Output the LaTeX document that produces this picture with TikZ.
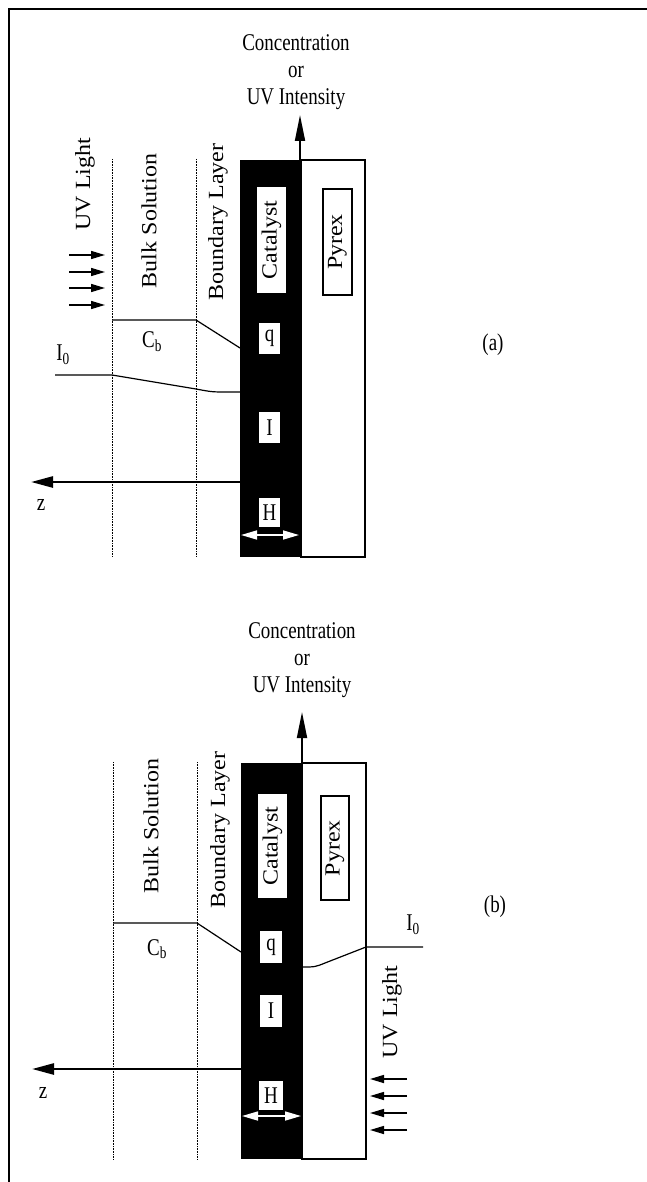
\documentclass[tikz,border=0pt]{standalone}
\usepackage{graphicx}
\usepackage{fontspec}
\setmainfont{Liberation Serif}
\usetikzlibrary{arrows.meta}
\newcommand{\hsq}[1]{\scalebox{0.79}[1]{#1}}
\newcommand{\vsq}[1]{\rotatebox{90}{\scalebox{1}[0.9]{#1}}}
\begin{document}
\begin{tikzpicture}[
    x=1pt, y=-1pt,
    every node/.style={font=\fontsize{24}{27}\selectfont, inner sep=0pt},
    tag/.style={fill=white, minimum width=21pt, minimum height=31pt},
    slab/.style={fill=white, minimum width=29pt, minimum height=106pt},
    layer/.style={densely dotted, line width=0.6pt},
    profile/.style={line width=1.2pt},
    zaxis/.style={line width=2.6pt, -{Triangle[length=22pt,width=11pt]}},
    upaxis/.style={line width=1.8pt, -{Triangle[length=26pt,width=10pt]}},
    uvray/.style={line width=1.5pt, -{Triangle[length=14pt,width=8pt]}},
    span/.style={white, line width=1.6pt,
        {Triangle[length=16pt,width=9pt]}-{Triangle[length=16pt,width=9pt]}}
]
  \useasboundingbox (0,0) rectangle (647,1182);
  % frame
  \draw[line width=1.5pt] (9,1182) -- (9,9) -- (647,9);

  % ---- panel (a): light from the solution side
  \fill (240,160) rectangle (301,557);
  \draw[line width=1.2pt] (301,160) rectangle (365,557);
  \draw[layer] (112,159) -- (112,557);
  \draw[layer] (196,159) -- (196,557);

  \node[align=center, anchor=north] (concA) at (296,34)
    {\hsq{Concentration}\\\hsq{or}\\\hsq{UV Intensity}};
  \coordinate (baseA) at (300,160);
  \coordinate (tipA) at (300,115);
  \draw[upaxis] (baseA) -- (tipA);

  \node (uvA)   at (85,184)  {\vsq{UV Light}};
  \node (bulkA) at (149,221) {\vsq{Bulk Solution}};
  \node (bndA)  at (218,222) {\vsq{Boundary Layer}};
  \node[slab] (catA) at (271.5,240) {\vsq{Catalyst}};
  \node[slab, draw, line width=1.1pt] (pyrA) at (337.5,242) {\vsq{Pyrex}};
  \foreach \y in {255,272,288,305}
    \draw[uvray] (69,\y) -- (105,\y);

  \draw[profile] (112,320) -- (196,320) -- (240,348);
  \draw[profile] (55,375) -- (112,375) -- (196,389)
    .. controls (212,392) .. (228,392) -- (240,392);
  \node (cbA) at (152,342) {\hsq{C\textsubscript{b}}};
  \node (ioA) at (63,355)  {\hsq{I\textsubscript{0}}};

  \node[tag] (qA) at (269.5,338.5) {\hsq{q}};
  \node[tag] (iA) at (269.5,427.5) {\hsq{I}};
  \node[tag, minimum height=29pt] (hA) at (269.5,512.5) {\hsq{H}};
  \coordinate (zoA) at (240,482);
  \coordinate (zeA) at (31,482);
  \draw[zaxis] (zoA) -- (zeA);
  \node (zA) at (41,505) {\hsq{z}};
  \coordinate (hlA) at (241,535);
  \coordinate (hrA) at (299,535);
  \draw[span] (hlA) -- (hrA);
  \node (labA) at (493,345) {\hsq{(a)}};

  % ---- panel (b): light from the pyrex side
  \fill (241,763) rectangle (302,1159);
  \draw[line width=1.2pt] (302,763) rectangle (366,1159);
  \draw[layer] (113,762) -- (113,1159);
  \draw[layer] (197,762) -- (197,1159);

  \node[align=center, anchor=north] (concB) at (302,622)
    {\hsq{Concentration}\\\hsq{or}\\\hsq{UV Intensity}};
  \coordinate (baseB) at (302,763);
  \coordinate (tipB) at (302,712);
  \draw[upaxis] (baseB) -- (tipB);

  \node (bulkB) at (151,826) {\vsq{Bulk Solution}};
  \node (bndB)  at (220,830) {\vsq{Boundary Layer}};
  \node[slab, minimum height=104pt] (catB) at (272.5,846) {\vsq{Catalyst}};
  \node[slab, draw, line width=1.1pt, minimum width=28pt, minimum height=104pt]
    (pyrB) at (335,848) {\vsq{Pyrex}};

  \draw[profile] (113,923) -- (197,923) -- (241,952);
  \draw[profile] (423,947) -- (366,947) -- (325,963)
    .. controls (315,967) .. (302,967);
  \node (cbB) at (157,949) {\hsq{C\textsubscript{b}}};
  \node (ioB) at (413,925) {\hsq{I\textsubscript{0}}};

  \node[tag, minimum width=22pt, minimum height=32pt] (qB) at (271,947) {\hsq{q}};
  \node[tag, minimum width=22pt, minimum height=32pt] (iB) at (271,1011) {\hsq{I}};
  \node[tag, minimum width=24pt, minimum height=29pt] (hB) at (271,1095.5) {\hsq{H}};
  \coordinate (zoB) at (241,1069);
  \coordinate (zeB) at (32,1069);
  \draw[zaxis] (zoB) -- (zeB);
  \node (zB) at (43,1093) {\hsq{z}};
  \coordinate (hlB) at (242,1116);
  \coordinate (hrB) at (301,1116);
  \draw[span] (hlB) -- (hrB);

  \node (uvB) at (392,1012) {\vsq{UV Light}};
  \foreach \y in {1079,1096,1113,1130}
    \draw[uvray] (407,\y) -- (370,\y);
  \node (labB) at (495,907) {\hsq{(b)}};
\end{tikzpicture}
\end{document}
